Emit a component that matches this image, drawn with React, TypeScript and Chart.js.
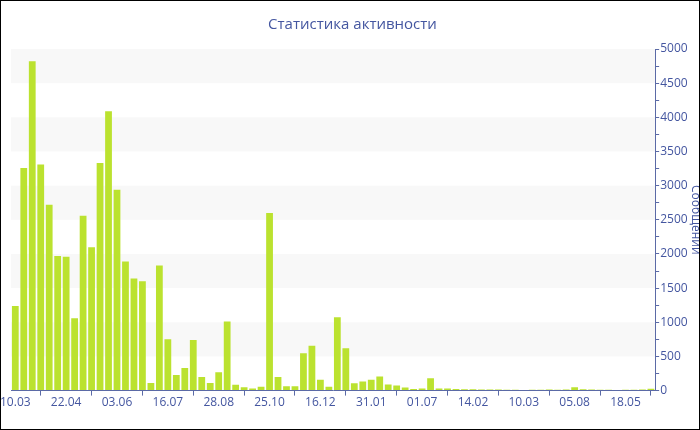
import React, { useEffect, useRef } from "react";
import { Chart, registerables } from "chart.js";

Chart.register(...registerables);

const title = "Статистика активности";
const yTitle = "Сообщений";

const values: number[] = [
  1240, 3260, 4820, 3310, 2720, 1970, 1960, 1060, 2560, 2100,
  3330, 4090, 2940, 1890, 1640, 1600, 110, 1830, 750, 230,
  330, 740, 200, 110, 270, 1010, 85, 50, 30, 55,
  2600, 200, 65, 65, 545, 655, 160, 55, 1075, 620,
  108, 132, 160, 205, 88, 73, 44, 25, 29, 181,
  29, 29, 24, 20, 20, 15, 15, 15, 12, 12,
  10, 12, 12, 15, 12, 15, 50, 18, 15, 12,
  12, 10, 12, 12, 15, 28,
];

const tickLabels: string[] = [
  "10.03", "22.04", "03.06", "16.07", "28.08", "25.10", "16.12",
  "31.01", "01.07", "14.02", "10.03", "05.08", "18.05",
];
const tickEvery = 6;

const categories: string[] = values.map((_, i) =>
  i % tickEvery === 0 ? tickLabels[i / tickEvery] : String(i)
);

const bands: [number, number][] = [
  [500, 1000],
  [1500, 2000],
  [2500, 3000],
  [3500, 4000],
  [4500, 5000],
];

const axisColor = "#5b6aa6";
const textColor = "#4456a0";
const barColor = "#bbe22f";
const fontFamily = "'Open Sans', sans-serif";

export default function App() {
  const ref = useRef<HTMLCanvasElement | null>(null);

  useEffect(() => {
    document.body.style.margin = "0";
    if (!ref.current) return;
    const bandPlugin = {
      id: "bands",
      beforeDraw(chart: any) {
        const { ctx, chartArea, scales } = chart;
        const y = scales.y;
        ctx.save();
        ctx.fillStyle = "#f8f8f8";
        for (const [a, b] of bands) {
          const y0 = y.getPixelForValue(a);
          const y1 = y.getPixelForValue(b);
          ctx.fillRect(chartArea.left, y1, chartArea.right - chartArea.left, y0 - y1);
        }
        ctx.restore();
      },
    };
    const chart = new Chart(ref.current, {
      type: "bar",
      data: {
        labels: categories,
        datasets: [
          {
            data: values,
            backgroundColor: barColor,
            borderWidth: 0,
            barPercentage: 0.8,
            categoryPercentage: 1,
          },
        ],
      },
      options: {
        animation: false,
        responsive: true,
        maintainAspectRatio: false,
        layout: { padding: { left: 0, right: 0, top: 0, bottom: 19 } },
        plugins: {
          legend: { display: false },
          tooltip: { enabled: false },
          title: {
            display: true,
            text: title,
            color: textColor,
            font: { family: fontFamily, size: 15, weight: "normal" },
            padding: { top: 15, bottom: 15 },
          },
        },
        scales: {
          x: {
            type: "category",
            offset: true,
            grid: {
              display: true,
              drawOnChartArea: false,
              drawTicks: true,
              tickLength: 5,
              color: axisColor,
            },
            border: { display: true, color: axisColor },
            ticks: {
              autoSkip: false,
              maxRotation: 0,
              color: textColor,
              padding: 0,
              font: { family: fontFamily, size: 12 },
              callback: (_v: any, i: number) =>
                i % tickEvery === 0 ? tickLabels[i / tickEvery] : null,
            },
          },
          y: {
            position: "right",
            min: 0,
            max: 5000,
            grid: {
              display: true,
              drawOnChartArea: false,
              drawTicks: true,
              tickLength: 4,
              color: axisColor,
            },
            border: { display: true, color: axisColor },
            ticks: {
              stepSize: 250,
              autoSkip: false,
              color: textColor,
              padding: 1,
              font: { family: fontFamily, size: 12 },
              callback: (v: any) => (Number(v) % 500 === 0 ? String(v) : ""),
            },
            title: {
              display: true,
              text: yTitle,
              color: textColor,
              font: { family: fontFamily, size: 12 },
              padding: { top: 2, bottom: 0 },
            },
          },
        },
      },
      plugins: [bandPlugin],
    });
    return () => chart.destroy();
  }, []);

  return (
    <div
      style={{
        width: 700,
        height: 430,
        boxSizing: "border-box",
        border: "1px solid #000",
        position: "relative",
        overflow: "hidden",
        background: "#fff",
      }}
    >
      <div style={{ position: "absolute", left: -1, top: 0, width: 705, height: 428 }}>
        <canvas ref={ref} />
      </div>
    </div>
  );
}
